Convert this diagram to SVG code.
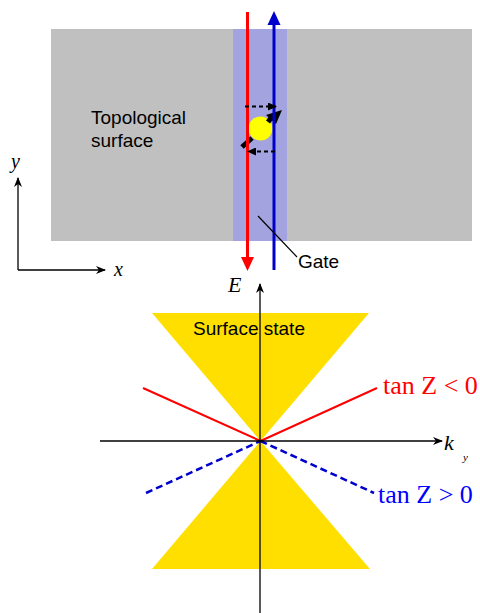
<svg xmlns="http://www.w3.org/2000/svg" width="480" height="613" viewBox="0 0 480 613">
<style>
.sans{font-family:"Liberation Sans",Arial,sans-serif;font-size:19px;fill:#000}
.ser{font-family:"Liberation Serif","Times New Roman",serif;font-style:italic;fill:#000}
.tan{font-family:"Liberation Serif","Times New Roman",serif;font-size:26px}
.ax{stroke:#000;stroke-width:1.3;fill:none}
</style>
<defs>
<marker id="ah" markerWidth="10" markerHeight="8" refX="9" refY="4" orient="auto" markerUnits="userSpaceOnUse"><path d="M0,0 L10,4 L0,8 L3,4 Z" fill="#000"/></marker>
<marker id="ahs" markerWidth="9" markerHeight="8" refX="8" refY="4" orient="auto" markerUnits="userSpaceOnUse"><path d="M0,0 L9,4 L0,8 Z" fill="#000"/></marker>
</defs>
<g id="surface">
<rect x="51" y="29" width="421" height="212" fill="#c0c0c0"/>
<text class="sans" x="91" y="124">Topological</text>
<text class="sans" x="91" y="147">surface</text>
</g>
<g id="gate">
<rect x="233" y="29" width="54" height="212" fill="#a3a3e0"/>
<text class="sans" x="298" y="268">Gate</text>
</g>
<g id="particle">
<path d="M242,147 L252,138" stroke="#000" stroke-width="5"/>
<circle cx="260.5" cy="128.5" r="12" fill="#ffff00"/>
<path d="M268,122 L271,118" stroke="#000" stroke-width="5"/>
<path d="M282,110 L266,115 L276,124 Z" fill="#000"/>
</g>
<g id="connectors">
<line x1="247.5" y1="12" x2="247.5" y2="258" stroke="#ff0000" stroke-width="3"/>
<path d="M241,257 L254,257 L247.5,271 Z" fill="#ff0000"/>
<line x1="274" y1="270" x2="274" y2="24" stroke="#0000cc" stroke-width="3"/>
<path d="M267.5,25 L280.5,25 L274,11 Z" fill="#0000cc"/>
<line x1="245" y1="106.5" x2="276" y2="106.5" stroke="#000" stroke-width="2.2" stroke-dasharray="4,3" marker-end="url(#ahs)"/>
<line x1="275" y1="151.5" x2="248" y2="151.5" stroke="#000" stroke-width="2.2" stroke-dasharray="4,3" marker-end="url(#ahs)"/>
<line x1="258" y1="216" x2="297" y2="257" stroke="#000" stroke-width="1.2"/>
<line class="ax" x1="18" y1="270" x2="18" y2="178" marker-end="url(#ah)"/>
<line class="ax" x1="18" y1="270" x2="105" y2="270" marker-end="url(#ah)"/>
</g>
<g id="axes-labels">
<text class="ser" x="11" y="168" font-size="20">y</text>
<text class="ser" x="114" y="276" font-size="20">x</text>
</g>
<g id="cones">
<polygon points="152,313 369,313 260.5,441" fill="#ffdf00"/>
<polygon points="260.5,441 152,569 370,569" fill="#ffdf00"/>
<text class="sans" x="193" y="335">Surface state</text>
</g>
<g id="dispersion">
<line x1="143" y1="388" x2="260.5" y2="441" stroke="#ff0000" stroke-width="2"/>
<line x1="260.5" y1="441" x2="377" y2="388" stroke="#ff0000" stroke-width="2"/>
<line x1="146" y1="493" x2="260.5" y2="441" stroke="#0000cc" stroke-width="2.5" stroke-dasharray="7,4"/>
<line x1="260.5" y1="441" x2="374" y2="493" stroke="#0000cc" stroke-width="2.5" stroke-dasharray="7,4"/>
<text class="tan" x="383" y="394" fill="#ff0000">tan Z &lt; 0</text>
<text class="tan" x="378" y="503" fill="#0000ff">tan Z &gt; 0</text>
</g>
<g id="e-axes">
<line class="ax" x1="260" y1="613" x2="260" y2="284" marker-end="url(#ah)"/>
<line class="ax" x1="100" y1="441" x2="442" y2="441" marker-end="url(#ah)"/>
<text class="ser" x="228" y="292" font-size="22">E</text>
<text class="ser" x="444" y="450" font-size="22">k</text>
<text class="ser" x="463" y="461" font-size="11">y</text>
</g>
</svg>
